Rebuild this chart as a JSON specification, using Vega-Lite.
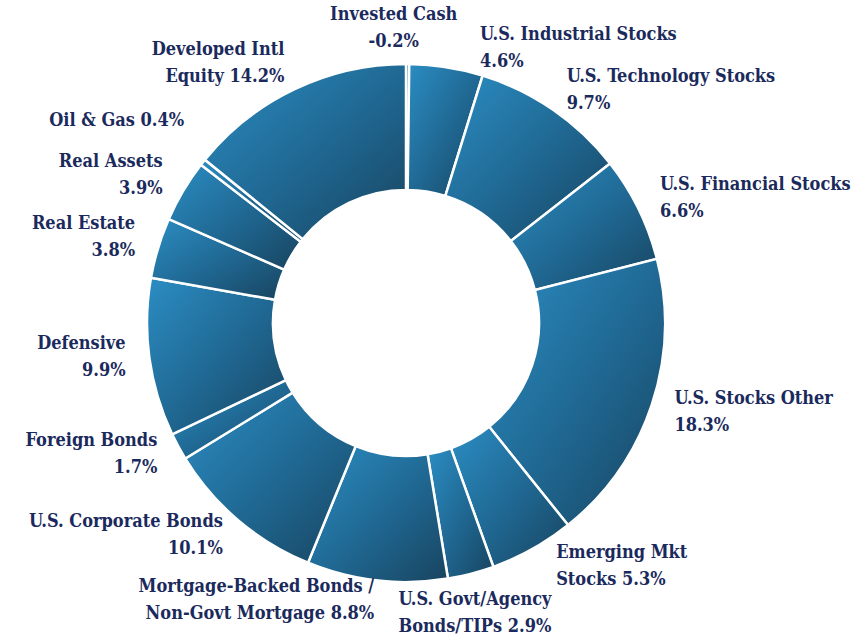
{
  "$schema": "https://vega.github.io/schema/vega-lite/v6.json",
  "width": 812,
  "height": 630,
  "autosize": {"type": "none"},
  "padding": {"left": 0, "top": 8, "right": 40, "bottom": 0},
  "background": "white",
  "config": {"view": {"stroke": null}, "text": {"font": "DejaVu Serif Condensed", "fontWeight": "bold", "fontSize": 18, "lineHeight": 27, "lineBreak": "\n", "color": "#1b2a5c"}},
  "data": {
    "values": [
      {"name": "Invested Cash", "value": -0.2, "label": "Invested Cash\n-0.2%"},
      {"name": "U.S. Industrial Stocks", "value": 4.6, "label": "U.S. Industrial Stocks\n4.6%"},
      {"name": "U.S. Technology Stocks", "value": 9.7, "label": "U.S. Technology Stocks\n9.7%"},
      {"name": "U.S. Financial Stocks", "value": 6.6, "label": "U.S. Financial Stocks\n6.6%"},
      {"name": "U.S. Stocks Other", "value": 18.3, "label": "U.S. Stocks Other\n18.3%"},
      {"name": "Emerging Mkt Stocks", "value": 5.3, "label": "Emerging Mkt\nStocks 5.3%"},
      {"name": "U.S. Govt/Agency Bonds/TIPs", "value": 2.9, "label": "U.S. Govt/Agency\nBonds/TIPs  2.9%"},
      {"name": "Mortgage-Backed Bonds / Non-Govt Mortgage", "value": 8.8, "label": "Mortgage-Backed Bonds /\nNon-Govt Mortgage 8.8%"},
      {"name": "U.S. Corporate Bonds", "value": 10.1, "label": "U.S. Corporate Bonds\n10.1%"},
      {"name": "Foreign Bonds", "value": 1.7, "label": "Foreign Bonds\n1.7%"},
      {"name": "Defensive", "value": 9.9, "label": "Defensive\n9.9%"},
      {"name": "Real Estate", "value": 3.8, "label": "Real Estate\n3.8%"},
      {"name": "Real Assets", "value": 3.9, "label": "Real Assets\n3.9%"},
      {"name": "Oil & Gas", "value": 0.4, "label": "Oil & Gas 0.4%"},
      {"name": "Developed Intl Equity", "value": 14.2, "label": "Developed Intl\nEquity 14.2%"}
    ]
  },
  "transform": [
    {"calculate": "abs(datum.value)", "as": "absval"},
    {"window": [{"op": "row_number", "as": "idx"}, {"op": "sum", "field": "absval", "as": "cum"}], "frame": [null, 0]},
    {"joinaggregate": [{"op": "sum", "field": "absval", "as": "total"}]},
    {"calculate": "datum.cum - datum.absval / 2", "as": "mid"},
    {"calculate": "datum.mid / datum.total", "as": "frac"},
    {"calculate": "datum.frac < 0.01 ? 'top' : datum.frac < 0.05 ? 'topright' : datum.frac < 0.4 ? 'left' : datum.frac < 0.44 ? 'bottomright' : datum.frac < 0.5 ? 'bottom' : datum.absval < 1 ? 'rightsmall' : 'right'", "as": "pos"}
  ],
  "layer": [
    {
      "mark": {
        "type": "arc",
        "outerRadius": 259,
        "innerRadius": 133,
        "stroke": "white",
        "strokeWidth": 2.5,
        "color": {
          "gradient": "linear",
          "x1": 0, "y1": 0, "x2": 1, "y2": 1,
          "stops": [
            {"offset": 0, "color": "#2b8dc3"},
            {"offset": 0.55, "color": "#1f6690"},
            {"offset": 1, "color": "#18445f"}
          ]
        }
      },
      "encoding": {
        "theta": {"field": "absval", "type": "quantitative", "stack": true, "scale": {"nice": false}},
        "order": {"field": "idx", "type": "quantitative"}
      }
    },
    {
      "transform": [{"filter": "datum.pos === 'right'"}],
      "mark": {"type": "text", "radius": 283, "align": "right", "baseline": "middle", "dy": -17},
      "encoding": {"theta": {"field": "mid", "type": "quantitative", "stack": null}, "text": {"field": "label"}}
    },
    {
      "transform": [{"filter": "datum.pos === 'rightsmall'"}],
      "mark": {"type": "text", "radius": 283, "align": "right", "baseline": "bottom", "dy": -17},
      "encoding": {"theta": {"field": "mid", "type": "quantitative", "stack": null}, "text": {"field": "label"}}
    },
    {
      "transform": [{"filter": "datum.pos === 'left'"}],
      "mark": {"type": "text", "radius": 283, "align": "left", "baseline": "middle", "dy": -13.5},
      "encoding": {"theta": {"field": "mid", "type": "quantitative", "stack": null}, "text": {"field": "label"}}
    },
    {
      "transform": [{"filter": "datum.pos === 'topright'"}],
      "mark": {"type": "text", "radius": 283, "align": "left", "baseline": "middle", "dx": 30, "dy": -8.5},
      "encoding": {"theta": {"field": "mid", "type": "quantitative", "stack": null}, "text": {"field": "label"}}
    },
    {
      "transform": [{"filter": "datum.pos === 'bottomright'"}],
      "mark": {"type": "text", "radius": 283, "align": "left", "baseline": "middle", "dx": 12, "dy": -17},
      "encoding": {"theta": {"field": "mid", "type": "quantitative", "stack": null}, "text": {"field": "label"}}
    },
    {
      "transform": [{"filter": "datum.pos === 'top'"}],
      "mark": {"type": "text", "radius": 272, "align": "center", "baseline": "bottom", "dx": -14, "dy": -27},
      "encoding": {"theta": {"field": "mid", "type": "quantitative", "stack": null}, "text": {"field": "label"}}
    },
    {
      "transform": [{"filter": "datum.pos === 'bottom'"}],
      "mark": {"type": "text", "radius": 275, "align": "center", "baseline": "top", "dy": 2},
      "encoding": {"theta": {"field": "mid", "type": "quantitative", "stack": null}, "text": {"field": "label"}}
    }
  ]
}
